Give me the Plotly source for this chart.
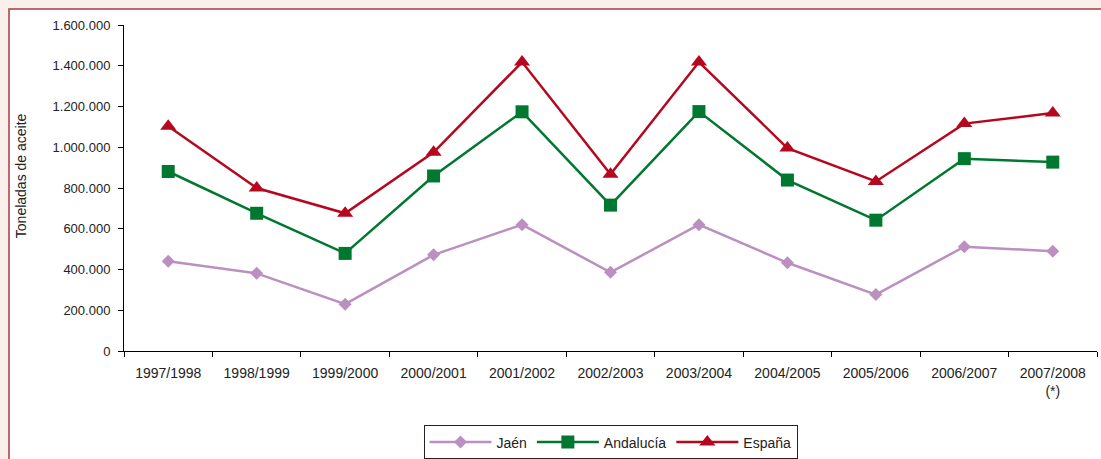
import plotly.graph_objects as go

categories = ["1997/1998", "1998/1999", "1999/2000", "2000/2001", "2001/2002",
              "2002/2003", "2003/2004", "2004/2005", "2005/2006", "2006/2007",
              "2007/2008<br>(*)"]
jaen = [441000, 381000, 230000, 472000, 620000, 386000, 620000, 433000, 277000, 512000, 490000]
andalucia = [881000, 676000, 479000, 859000, 1174000, 716000, 1175000, 839000, 642000, 944000, 927000]
espana = [1103000, 800000, 676000, 975000, 1418000, 868000, 1418000, 996000, 832000, 1116000, 1168000]
yticks = [0, 200000, 400000, 600000, 800000, 1000000, 1200000, 1400000, 1600000]

FONT = "Liberation Sans, Arial, sans-serif"
TXT = "#222222"

fig = go.Figure()
fig.add_trace(go.Scatter(x=categories, y=jaen, name="Jaén", mode="lines+markers",
                         line=dict(color="#bb8fc0", width=2.5),
                         marker=dict(symbol="diamond", size=10, color="#bb8fc0")))
fig.add_trace(go.Scatter(x=categories, y=andalucia, name="Andalucía", mode="lines+markers",
                         line=dict(color="#00782f", width=2.5),
                         marker=dict(symbol="square", size=13, color="#00782f")))
fig.add_trace(go.Scatter(x=categories, y=espana, name="España", mode="lines+markers",
                         line=dict(color="#b5081f", width=2.5),
                         marker=dict(symbol="triangle-up", size=14, color="#b5081f")))

L, R, T, B = 124, 4, 25, 108.4
W, H = 1101, 459
pw = W - L - R
ph = H - T - B

def px(x):
    return (x - L) / pw

def py(y):
    return (H - B - y) / ph

fig.add_shape(type="rect", xref="paper", yref="paper",
              x0=px(9), x1=px(1130), y0=py(9), y1=py(490),
              line=dict(color="#a83a40", width=1.5), fillcolor="white", layer="below")

fig.add_annotation(text="Toneladas de aceite", xref="paper", yref="paper",
                   x=px(21), y=py(176), textangle=-90, showarrow=False,
                   xanchor="center", yanchor="middle",
                   font=dict(family=FONT, size=14, color=TXT))

fig.update_layout(
    width=W, height=H,
    margin=dict(l=L, r=R, t=T, b=B, autoexpand=False),
    paper_bgcolor="#f9f0eb",
    plot_bgcolor="white",
    separators=",.",
    font=dict(family=FONT, size=14, color=TXT),
    showlegend=True,
    legend=dict(orientation="h", x=px(610.5), xanchor="center", y=py(425), yanchor="top",
                bgcolor="white", bordercolor="#222222", borderwidth=1,
                font=dict(family=FONT, size=14, color=TXT),
                itemwidth=62, tracegroupgap=0),
    xaxis=dict(type="category", range=[-0.5, 10.5], showgrid=False,
               showline=True, linecolor="black", linewidth=1,
               ticks="outside", tickson="boundaries", ticklen=5, tickcolor="black",
               ticklabelstandoff=9,
               tickfont=dict(family=FONT, size=14, color=TXT)),
    yaxis=dict(range=[0, 1600000], tickvals=yticks, tickformat=",d",
               showgrid=False, zeroline=False,
               showline=True, linecolor="black", linewidth=1,
               ticks="outside", ticklen=5, tickcolor="black",
               ticklabelstandoff=5,
               tickfont=dict(family=FONT, size=13, color=TXT)),
)

fig.write_html("out.html", config={"displayModeBar": False},
               post_script="document.body.style.margin='0';document.body.style.padding='0';")
